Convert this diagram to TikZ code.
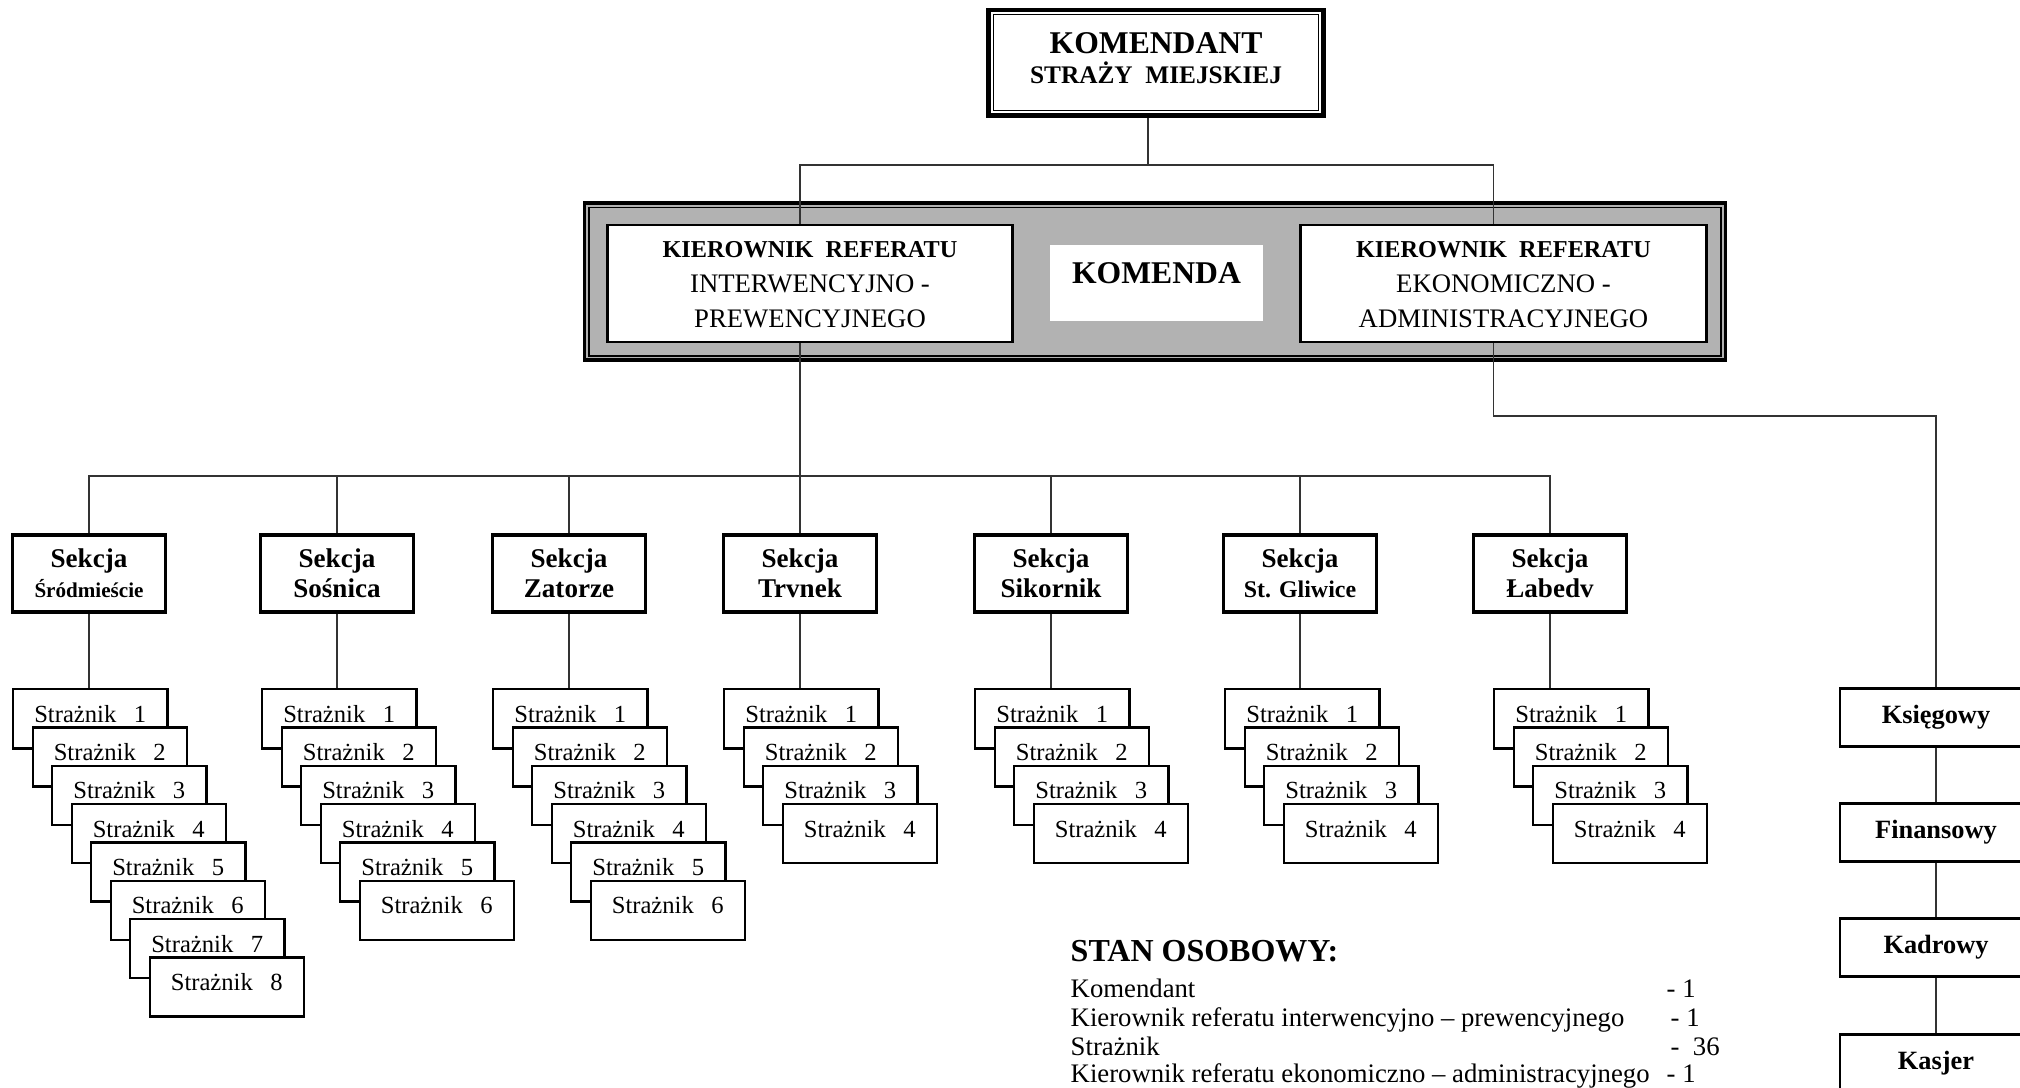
\documentclass[tikz,border=0pt]{standalone}
\usepackage{fontspec}
\setmainfont{Liberation Serif}
\newcommand\myfs[2]{\fontsize{#1}{#2}\selectfont}
\tikzset{
  conn/.style={draw=black!80, line width=0.45pt},
  framek/.style={draw, line width=0.9pt, fill=black!30, inner sep=0pt, minimum width=11.4cm, minimum height=1.57cm},
  kbox/.style={draw, line width=0.8pt, fill=white, inner sep=0pt, minimum width=4.05cm, minimum height=1.17cm},
  topbox/.style={draw, line width=1.4pt, fill=white, inner sep=0pt, minimum width=3.34cm, minimum height=1.05cm},
  txt/.style={anchor=base, inner sep=0pt},
  sekbox/.style={draw, line width=0.9pt, fill=white, inner sep=0pt, minimum width=1.53cm, minimum height=0.77cm, align=center, font=\bfseries\myfs{7.7}{8.5}},
  grd/.style={draw, line width=0.7pt, fill=white, inner sep=0pt, anchor=north west, minimum width=1.54cm, minimum height=0.59cm, font=\myfs{7}{8}, text height=0.21cm, text depth=0.14cm},
  rbox/.style={draw, line width=0.8pt, fill=white, inner sep=0pt, anchor=north, minimum width=1.92cm, minimum height=0.58cm, font=\bfseries\myfs{7.5}{9}},
  lst/.style={anchor=base west, inner sep=0pt, font=\myfs{7.6}{9}},
}
\begin{document}
\begin{tikzpicture}[x=0.01cm, y=-0.01cm]
\useasboundingbox (0,0) rectangle (2020,1087);
\fill[white] (0,0) rectangle (2020,1087);
\clip (0,0) rectangle (2020,1087);

% top box
\node[topbox] (kmd) at (1156,62.5) {};
\draw[line width=0.5pt] ([shift={(7,7)}]kmd.north west) rectangle ([shift={(-7,-7)}]kmd.south east);
\node[txt, font=\bfseries\myfs{9}{10}] (kmdt1) at (1156,53) {KOMENDANT};
\node[txt, font=\bfseries\myfs{7.2}{9}] (kmdt2) at (1156,83) {STRAŻY\ \ MIEJSKIEJ};

% komenda frame
\node[framek] (kom) at (1155,281.5) {};
\draw[line width=0.5pt] ([shift={(6,6)}]kom.north west) rectangle ([shift={(-6,-6)}]kom.south east);
\node[kbox] (kI) at (810,283.5) {};
\node[kbox] (kE) at (1503.5,283.5) {};
\node[fill=white, inner sep=0pt, minimum width=2.13cm, minimum height=0.76cm, font=\bfseries\myfs{9}{10}, text height=0.22cm, text depth=0.22cm] (komt) at (1156.5,283) {KOMENDA};
\node[txt, font=\bfseries\myfs{6.9}{9}] (kIt1) at (810,257) {KIEROWNIK\ \ REFERATU};
\node[txt, font=\myfs{7.6}{9}] (kIt2) at (810,292) {INTERWENCYJNO -};
\node[txt, font=\myfs{7.6}{9}] (kIt3) at (810,327) {PREWENCYJNEGO};
\node[txt, font=\bfseries\myfs{6.9}{9}] (kEt1) at (1503.5,257) {KIEROWNIK\ \ REFERATU};
\node[txt, font=\myfs{7.6}{9}] (kEt2) at (1503.5,292) {EKONOMICZNO -};
\node[txt, font=\myfs{7.6}{9}] (kEt3) at (1503.5,327) {ADMINISTRACYJNEGO};

% connectors top
\coordinate (tbus) at (1148,165);
\draw[conn] ([xshift=-0.08cm]kmd.south) -- ([xshift=-0.08cm]kmd.south |- tbus);
\draw[conn] ([xshift=-0.1cm]kI.north) |- (tbus) -| ([xshift=-0.1cm]kE.north);

% sections
\node[sekbox] (s1) at (89,573.5) {Sekcja\\{\myfs{6}{8.5}Śródmieście}};
\node[sekbox] (s2) at (337,573.5) {Sekcja\\Sośnica};
\node[sekbox] (s3) at (569,573.5) {Sekcja\\Zatorze};
\node[sekbox] (s4) at (800,573.5) {Sekcja\\Trvnek};
\node[sekbox] (s5) at (1051,573.5) {Sekcja\\Sikornik};
\node[sekbox] (s6) at (1300,573.5) {Sekcja\\{\myfs{6.8}{8.5}St. Gliwice}};
\node[sekbox] (s7) at (1550,573.5) {Sekcja\\Łabedv};

\coordinate (bus) at (800,476);
\draw[conn] ([xshift=-0.1cm]kI.south) -- ([xshift=-0.1cm]kI.south |- bus);
\draw[conn] (s1.north) |- (bus) -| (s7.north);
\foreach \i in {2,...,6} {\draw[conn] (s\i.north) -- (s\i.north |- bus);}

% guards
\foreach \i/\L/\n in {1/12/8, 2/261/6, 3/492/6, 4/723/4, 5/974/4, 6/1224/4, 7/1493/4} {
  \foreach \k in {1,...,\n} {
    \node[grd] (g\i-\k) at ({\L+(\k-1)*19.5},{688+(\k-1)*38.3}) {Strażnik\hspace{5pt}\k};
  }
  \draw[conn] (s\i.south) -- (s\i.south |- g\i-1.north);
}

% right column
\node[rbox] (ks) at (1936,687) {Księgowy};
\node[rbox] (fin) at (1936,802) {Finansowy};
\node[rbox] (kad) at (1936,917) {Kadrowy};
\node[rbox] (kas) at (1936,1033) {Kasjer};
\coordinate (rbus) at (1936,416);
\draw[conn] ([xshift=-0.1cm]kE.south) |- (rbus) -- (ks.north);
\draw[conn] (ks.south) -- (fin.north);
\draw[conn] (fin.south) -- (kad.north);
\draw[conn] (kad.south) -- (kas.north);

% stan osobowy
\node[anchor=base west, inner sep=0pt, font=\bfseries\myfs{9.1}{10}] (stan) at (1070,961) {STAN OSOBOWY:};
\node[lst] (l1) at (1070,997) {Komendant};
\node[lst] (l2) at (1070,1026) {Kierownik referatu interwencyjno – prewencyjnego};
\node[lst] (l3) at (1070,1055) {Strażnik};
\node[lst] (l4) at (1070,1082) {Kierownik referatu ekonomiczno – administracyjnego};
\node[lst] (v1) at (1666,997) {- 1};
\node[lst] (v2) at (1670,1026) {- 1};
\node[lst] (v3) at (1670,1055) {-\ \ 36};
\node[lst] (v4) at (1666,1082) {- 1};
\end{tikzpicture}
\end{document}
